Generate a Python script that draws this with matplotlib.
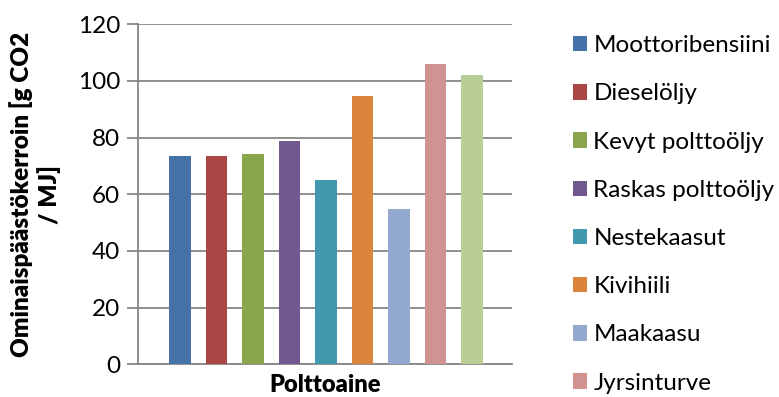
import matplotlib
matplotlib.use('Agg')
import matplotlib.pyplot as plt
from matplotlib.patches import Patch

plt.rcParams['font.family'] = ['Lato', 'DejaVu Sans']

# Specific CO2 emission factors per fuel
fuels = ['Moottoribensiini', 'Dieselöljy', 'Kevyt polttoöljy', 'Raskas polttoöljy',
         'Nestekaasut', 'Kivihiili', 'Maakaasu', 'Jyrsinturve', 'Palaturve']
values = [73.5, 73.5, 74.2, 78.8, 65.0, 94.7, 54.8, 106.0, 102.1]
colors = ['#4572A7', '#AA4643', '#89A54E', '#71588F', '#4198AF',
          '#DB843D', '#93A9CF', '#D19392', '#B9CD96']
yticks = [0, 20, 40, 60, 80, 100, 120]
n_legend = 8

fig = plt.figure(figsize=(7.79, 3.97), dpi=100)
ax = fig.add_axes([0.1776, 0.0823, 0.4794, 0.8565])

bars = ax.bar(range(len(values)), values, width=0.58, color=colors, zorder=3)

ax.set_xlim(-1.14, 9.09)
ax.set_ylim(0, 120)
ax.set_yticks(yticks)
ax.set_xticks([])
ax.yaxis.grid(True, color='#868686', linewidth=1.3, zorder=0)

for side in ('top', 'right'):
    ax.spines[side].set_visible(False)
for side in ('left', 'bottom'):
    ax.spines[side].set_color('#868686')
    ax.spines[side].set_linewidth(1.3)
ax.tick_params(axis='y', length=8, width=1.3, color='#868686', labelsize=17.5, pad=5)

ax.set_ylabel('Ominaispäästökerroin [g CO2\n/ MJ]', fontsize=17.5, fontweight='heavy',
              linespacing=1.2, labelpad=12)
ax.set_xlabel('Polttoaine', fontsize=17, fontweight='heavy', labelpad=7)

handles = [Patch(facecolor=colors[i], label=fuels[i]) for i in range(n_legend)]
fig.legend(handles=handles, loc='upper left', bbox_to_anchor=(0.7227, 0.936),
           frameon=False, fontsize=17.5, handlelength=0.6, handleheight=0.6,
           handletextpad=0.25, labelspacing=1.12, borderaxespad=0)

fig.savefig('out.png', dpi=100, facecolor='white')
